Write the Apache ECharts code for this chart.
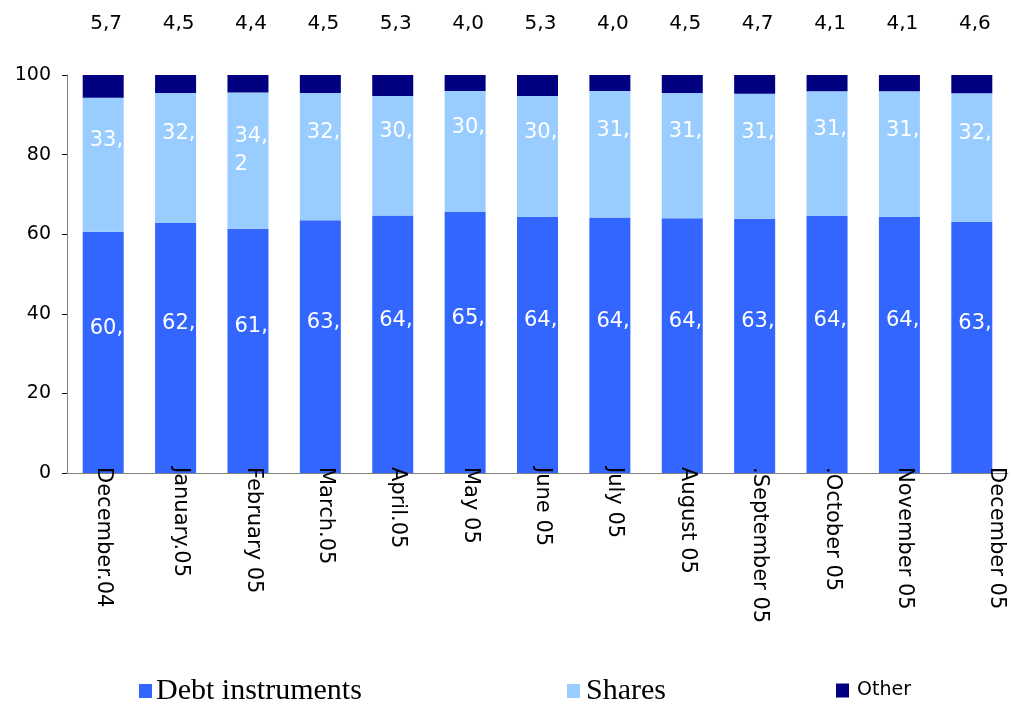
<!DOCTYPE html>
<html>
<head>
<meta charset="utf-8">
<script src="https://cdn.jsdelivr.net/npm/echarts@6/dist/echarts.min.js"></script>
<style>
html,body{margin:0;padding:0;background:#fff;}
#c{width:1014px;height:707px;}
</style>
</head>
<body>
<div id="c"></div>
<script>
var categories = ['December.04','January.05','February 05','March.05','April.05','May 05','June 05','July 05','August 05','.September 05','.October 05','November 05','December 05'];
var debtInstruments = [60.6, 62.8, 61.4, 63.5, 64.7, 65.6, 64.3, 64.2, 64.0, 63.9, 64.6, 64.3, 63.1];
var shares = [33.7, 32.7, 34.2, 32.0, 30.0, 30.4, 30.4, 31.8, 31.5, 31.4, 31.3, 31.6, 32.3];
var other = [5.7, 4.5, 4.4, 4.5, 5.3, 4.0, 5.3, 4.0, 4.5, 4.7, 4.1, 4.1, 4.6];
var yTicks = [0, 20, 40, 60, 80, 100];

function fmt(p){ return Number(p.value).toFixed(1).replace('.', ','); }

var inLabel = {
  show: true,
  position: 'insideLeft',
  distance: 7,
  verticalAlign: 'top',
  offset: [0, -38],
  color: '#ffffff',
  fontFamily: 'DejaVu Sans',
  fontSize: 21,
  lineHeight: 28,
  width: 40,
  overflow: 'truncate',
  ellipsis: '',
  formatter: fmt
};

var lastIdx = categories.length - 1;
var xFont = {color: '#000', fontFamily: 'DejaVu Sans', fontSize: 21};
function rs(pad) { return Object.assign({padding: [0, 0, pad, 0]}, xFont); }

var chart = echarts.init(document.getElementById('c'), null, {renderer: 'canvas'});
chart.setOption({
  animation: false,
  backgroundColor: '#ffffff',
  grid: {left: 67, right: 6, top: 75, bottom: 234, containLabel: false},
  legend: [
    {data: ['Debt instruments'], left: 139, top: 676, padding: 0, itemWidth: 13, itemHeight: 14, itemGap: 0, icon: 'rect',
     textStyle: {fontFamily: 'Liberation Serif', fontSize: 30, color: '#000', padding: [0,0,0,-1]}},
    {data: ['Shares'], left: 567, top: 676, padding: 0, itemWidth: 13, itemHeight: 14, itemGap: 0, icon: 'rect',
     textStyle: {fontFamily: 'Liberation Serif', fontSize: 30, color: '#000', padding: [0,0,0,1]}},
    {data: ['Other'], left: 836, top: 681, padding: 0, itemWidth: 13, itemHeight: 14, itemGap: 0, icon: 'rect',
     textStyle: {fontFamily: 'DejaVu Sans', fontSize: 19, color: '#000', padding: [0,0,0,3]}}
  ],
  xAxis: {
    type: 'category',
    z: 5,
    data: categories,
    axisLine: {show: true, lineStyle: {color: '#808080', width: 1}},
    axisTick: {show: false},
    axisLabel: {
      rotate: -90, margin: -6, interval: 0, color: '#000', fontFamily: 'DejaVu Sans', fontSize: 21,
      formatter: function (v, i) {
        if (i === 0) return '{a|' + v + '}';
        if (i === lastIdx) return '{c|' + v + '}';
        return '{b|' + v + '}';
      },
      rich: {a: rs(0), b: rs(10), c: rs(50)}
    },
    splitLine: {show: false}
  },
  yAxis: {
    type: 'value',
    min: yTicks[0],
    max: yTicks[yTicks.length - 1],
    interval: 20,
    axisLine: {show: true, lineStyle: {color: '#808080', width: 1}},
    axisTick: {show: true, inside: false, length: 5, lineStyle: {color: '#000'}},
    axisLabel: {color: '#000', fontFamily: 'DejaVu Sans', fontSize: 19, margin: 16},
    splitLine: {show: false}
  },
  series: [
    {
      name: 'Debt instruments', type: 'bar', stack: 'total', barWidth: 41,
      itemStyle: {color: '#3366FF'},
      label: inLabel,
      data: debtInstruments
    },
    {
      name: 'Shares', type: 'bar', stack: 'total', barWidth: 41,
      itemStyle: {color: '#99CCFF'},
      label: inLabel,
      data: shares.map(function (v, i) {
        return i === 2 ? {value: v, label: {overflow: 'breakAll'}} : v;
      })
    },
    {
      name: 'Other', type: 'bar', stack: 'total', barWidth: 41,
      itemStyle: {color: '#000080'},
      label: {show: true, position: 'top', distance: 41, offset: [3, 0], color: '#000',
              fontFamily: 'DejaVu Sans', fontSize: 20, formatter: fmt},
      data: other
    }
  ]
});
</script>
</body>
</html>
